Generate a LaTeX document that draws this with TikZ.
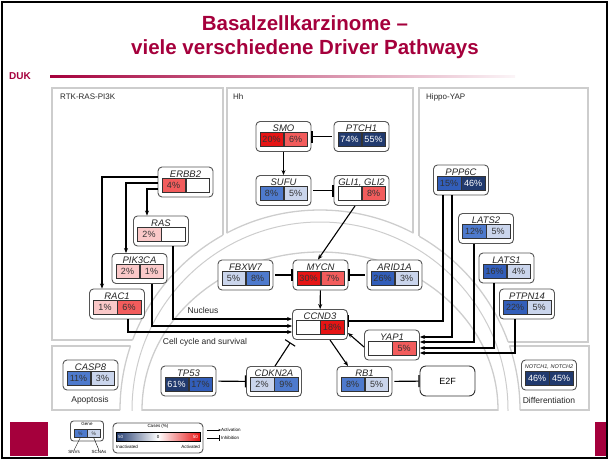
\documentclass[tikz,border=0pt]{standalone}
\usepackage{fontspec}
\setmainfont{Liberation Sans}
\usetikzlibrary{arrows.meta,positioning,calc}
\definecolor{dukred}{RGB}{165,0,60}
\definecolor{panelgray}{RGB}{205,205,205}
\definecolor{boxgray}{RGB}{85,85,85}
\definecolor{redlight}{RGB}{250,200,200}
\definecolor{redmid}{RGB}{242,92,92}
\definecolor{redhigh}{RGB}{230,20,20}
\definecolor{bluelight}{RGB}{202,213,236}
\definecolor{bluemid}{RGB}{78,122,205}
\definecolor{bluehigh}{RGB}{50,94,186}
\definecolor{navyblue}{RGB}{33,58,110}
\tikzset{
 genebox/.style={
 rectangle,
 rounded corners=4pt,
 draw=boxgray,
 fill=white,
 line width=0.9pt,
 minimum width=55pt,
 minimum height=30pt,
 inner sep=0pt
 },
 genename/.style={font=\fontsize{9.5}{10}\selectfont\itshape, text=black!85, inner sep=0pt},
 pct/.style={
 rectangle,
 draw=black!80,
 line width=0.5pt,
 minimum width=23.5pt,
 minimum height=14pt,
 inner sep=0pt,
 font=\fontsize{9}{9}\selectfont,
 text=black!80
 },
 cw/.style={pct, fill=white},
 crl/.style={pct, fill=redlight},
 crm/.style={pct, fill=redmid},
 crh/.style={pct, fill=redhigh},
 cbl/.style={pct, fill=bluelight},
 cbm/.style={pct, fill=bluemid},
 cbh/.style={pct, fill=bluehigh},
 cbn/.style={pct, fill=navyblue, text=white},
 panel/.style={draw=panelgray, line width=1.3pt},
 membrane/.style={draw=panelgray, line width=1pt},
 panellabel/.style={font=\fontsize{8}{8}\selectfont, text=black!85, anchor=west, inner sep=0pt},
 arealabel/.style={font=\fontsize{8.5}{9}\selectfont, text=black!85, inner sep=0pt},
 act/.style={-{Stealth[length=5pt,width=4pt]}, line width=1.1pt},
 inh/.style={-{Bar[width=12pt,line width=1.1pt]}, line width=1.1pt},
 title/.style={font=\fontsize{20.5}{22}\selectfont\bfseries, text=dukred, inner sep=0pt}
}
% gene box: id, position, name, left value, left style, right value, right style
\newcommand{\gene}[7]{%
 \node[genebox] (#1) at (#2) {};
 \node[genename] (#1-n) at ([yshift=-7.5pt]#1.north) {#3};
 \node[#5, anchor=east] (#1-a) at ([yshift=-3pt]#1.center) {#4};
 \node[#7, anchor=west] (#1-b) at ([yshift=-3pt]#1.center) {#6};
}

\begin{document}
\begin{tikzpicture}[x=1pt,y=-1pt]
 \useasboundingbox (0,0) rectangle (610,461);
 \draw[line width=1.5pt] (2,2) rectangle (607,458);

 % title
 \node[title] (t1) at (305,23) {Basalzellkarzinome --};
 \node[title] (t2) at (305,49) {viele verschiedene Driver Pathways};
 \node[font=\fontsize{10}{10}\selectfont\bfseries, text=dukred, anchor=west, inner sep=0pt] (duk) at (9,76) {DUK};
 \shade[left color=dukred, right color=dukred!4] (50,75) rectangle (515,77.5);
 \fill[dukred] (10,422) rectangle (48,456);
 \fill[dukred] (595,422) rectangle (606,456);

 % panels, cut by the arc round the nucleus
 \coordinate (c) at (320,410);
 \begin{scope}[even odd rule]
 \clip (0,0) rectangle (610,461) (c) circle (200);
 \draw[panel] (52,88) rectangle (223,340);
 \draw[panel] (227,88) rectangle (413,320);
 \draw[panel] (419,88) rectangle (588,342);
 \draw[panel] (52,346) rectangle (137,410);
 \draw[panel] (503,346) rectangle (589,410);
 \end{scope}
 \begin{scope}
 \clip (52,88) rectangle (223,340) (227,88) rectangle (413,320) (419,88) rectangle (588,342)
 (52,346) rectangle (137,410) (503,346) rectangle (589,410);
 \draw[panel] (c) circle (200);
 \end{scope}
 \begin{scope}
 \clip (0,0) rectangle (610,410);
 \draw[membrane] (c) circle (188);
 \draw[panel] (c) ellipse [x radius=178, y radius=158];
 \end{scope}
 \draw[panel] (142,410) -- (498,410);

 \node[panellabel] (l-rtk) at (60,97) {RTK-RAS-PI3K};
 \node[panellabel] (l-hh) at (233,97) {Hh};
 \node[panellabel] (l-hip) at (426,97) {Hippo-YAP};
 \node[arealabel] (l-nuc) at (203,310) {Nucleus};
 \node[arealabel] (l-cc) at (205,342) {Cell cycle and survival};
 \node[arealabel] (l-apo) at (90,400) {Apoptosis};
 \node[arealabel] (l-dif) at (549,400) {Differentiation};

 % genes
 \gene{erbb}{185.5,182}{ERBB2}{4\%}{crm}{}{cw}
 \gene{ras}{161,231}{RAS}{2\%}{crl}{}{cw}
 \gene{pik}{139.5,268.5}{PIK3CA}{2\%}{crl}{1\%}{crl}
 \gene{rac}{117,304}{RAC1}{1\%}{crl}{6\%}{crm}
 \gene{smo}{283.5,136.5}{SMO}{20\%}{crh}{6\%}{crm}
 \gene{ptch}{361.5,136.5}{PTCH1}{74\%}{cbn}{55\%}{cbn}
 \gene{sufu}{283.5,190.5}{SUFU}{8\%}{cbm}{5\%}{cbl}
 \gene{gli}{361.5,190.5}{GLI1, GLI2}{}{cw}{8\%}{crm}
 \gene{fbx}{245.5,275}{FBXW7}{5\%}{cbl}{8\%}{cbm}
 \gene{mycn}{320.5,275}{MYCN}{30\%}{crh}{7\%}{crm}
 \gene{arid}{394.5,275}{ARID1A}{26\%}{cbh}{3\%}{cbl}
 \gene{ccnd}{320,324.5}{CCND3}{}{cw}{18\%}{crh}
 \gene{yap}{392,345}{YAP1}{}{cw}{5\%}{crm}
 \gene{tp}{188.5,381}{TP53}{61\%}{cbn}{17\%}{cbh}
 \gene{cdkn}{274,381.5}{CDKN2A}{2\%}{cbl}{9\%}{cbm}
 \gene{rb}{364.5,381.5}{RB1}{8\%}{cbm}{5\%}{cbl}
 \gene{casp}{90.5,375}{CASP8}{11\%}{cbm}{3\%}{cbl}
 \gene{notch}{549,375}{\fontsize{5.5}{6}\selectfont NOTCH1, NOTCH2}{46\%}{cbn}{45\%}{cbn}
 \gene{ppp}{461,180}{PPP6C}{15\%}{cbh}{46\%}{cbn}
 \gene{lats2}{486,228.5}{LATS2}{12\%}{cbm}{5\%}{cbl}
 \gene{lats1}{506.5,268}{LATS1}{16\%}{cbh}{4\%}{cbl}
 \gene{ptpn}{527,304}{PTPN14}{22\%}{cbh}{5\%}{cbl}
 \node[genebox, rounded corners=6pt, draw=black!80, font=\fontsize{9}{9}\selectfont] (e2f) at (447.5,381) {E2F};

 % RTK-RAS-PI3K
 \draw[act] ([yshift=5pt]erbb.west) -| ([xshift=-15pt]rac.north);
 \draw[act] ([yshift=-1pt]erbb.west) -| ([xshift=-13.5pt]pik.north);
 \draw[act] ([yshift=-7pt]erbb.west) -| ([xshift=-14pt]ras.north);
 \draw[act] ([xshift=12pt]ras.south) |- ([yshift=5.5pt]ccnd.west);
 \draw[act] ([xshift=12.5pt]pik.south) |- ([yshift=-1.5pt]ccnd.west);
 \draw[act] ([xshift=11pt]rac.south) |- ([yshift=-7.5pt]ccnd.west);

 % Hh
 \draw[act] (smo) -- (sufu);
 \draw[inh, shorten <=2pt] (ptch) -- (smo);
 \draw[inh, shorten <=2pt] (sufu) -- (gli);
 \draw[act] ([xshift=-6.5pt]gli.south) -- ([xshift=-2.5pt]mycn.north);

 % nucleus
 \draw[inh, shorten <=2pt] (fbx) -- (mycn);
 \draw[inh, shorten <=2pt] (arid) -- (mycn);
 \draw[act] (mycn) -- (ccnd);
 \draw[act] ([yshift=-2pt]yap.west) -- ([yshift=-8.5pt]ccnd.east);
 \draw[act] ([xshift=10pt]ccnd.south) -- ([xshift=-16.5pt]rb.north);
 \draw[inh, shorten >=3pt] ([xshift=1pt]cdkn.north) -- (ccnd.south west);
 \draw[inh, shorten <=2pt] (tp) -- (cdkn);
 \draw[inh, shorten <=2pt] (rb) -- (e2f);

 % Hippo-YAP
 \draw[inh, line width=1.8pt] ([xshift=-18pt]ppp.south) |- ([yshift=3.5pt]ccnd.east);
 \draw[act, line width=1.8pt] ([xshift=-9pt]ppp.south) |- ([yshift=8pt]yap.east);
 \draw[act] ([xshift=-12pt]lats2.south) |- ([yshift=3pt]yap.east);
 \draw[act] ([xshift=-12.5pt]lats1.south) |- ([yshift=-3pt]yap.east);
 \draw[act] ([xshift=-12pt]ptpn.south) |- ([yshift=-8pt]yap.east);

 % legend
 \node[genebox, minimum width=33pt, minimum height=20pt, rounded corners=3pt] (lg-gene) at (87,431) {};
 \node[font=\fontsize{4.5}{5}\selectfont, inner sep=0pt] (lg-gname) at ([yshift=-3.5pt]lg-gene.north) {Gene};
 \node[pct, fill=bluemid, minimum width=13pt, minimum height=8pt, anchor=east, font=\fontsize{5}{5}\selectfont] (lg-a) at ([yshift=-2.5pt]lg-gene.center) {\%};
 \node[pct, fill=bluelight, minimum width=13pt, minimum height=8pt, anchor=west, font=\fontsize{5}{5}\selectfont] (lg-b) at ([yshift=-2.5pt]lg-gene.center) {\%};
 \node[font=\fontsize{4.5}{5}\selectfont, inner sep=0pt] (lg-snv) at (74,452) {SNVs};
 \node[font=\fontsize{4.5}{5}\selectfont, inner sep=0pt] (lg-scna) at (99,452) {SCNAs};
 \draw[line width=0.4pt] (lg-a.south) -- (lg-snv.north);
 \draw[line width=0.4pt] (lg-b.south) -- (lg-scna.north);
 \node[genebox, minimum width=90pt, minimum height=30pt, rounded corners=4pt] (lg-cases) at (158,438) {};
 \node[font=\fontsize{4.5}{5}\selectfont, inner sep=0pt] (lg-ctitle) at ([yshift=-4pt]lg-cases.north) {Cases (\%)};
 \shade[left color=navyblue, right color=redhigh, middle color=white] (116,432) rectangle (200,441);
 \draw[line width=0.4pt] (116,432) rectangle (200,441);
 \node[font=\fontsize{4.5}{5}\selectfont, text=white, anchor=west, inner sep=0pt] (lg-lo) at (118,436.5) {50};
 \node[font=\fontsize{4.5}{5}\selectfont, inner sep=0pt] (lg-mid) at (158,436.5) {0};
 \node[font=\fontsize{4.5}{5}\selectfont, text=white, anchor=east, inner sep=0pt] (lg-hi) at (198,436.5) {50};
 \node[font=\fontsize{4.5}{5}\selectfont, anchor=west, inner sep=0pt] (lg-inact) at (116,447) {Inactivated};
 \node[font=\fontsize{4.5}{5}\selectfont, anchor=east, inner sep=0pt] (lg-act) at (200,447) {Activated};
 \node[font=\fontsize{4.5}{5}\selectfont, anchor=west, inner sep=0pt] (lg-actl) at (221,430) {Activation};
 \node[font=\fontsize{4.5}{5}\selectfont, anchor=west, inner sep=0pt] (lg-inhl) at (221,438) {Inhibition};
 \coordinate (lg-a0) at (207,430);
 \coordinate (lg-i0) at (207,438);
 \draw[-{Stealth[length=2.5pt,width=2pt]}, line width=0.5pt] (lg-a0) -- (lg-actl.west);
 \draw[-{Bar[width=6pt]}, line width=0.5pt] (lg-i0) -- ([xshift=-1.5pt]lg-inhl.west);
\end{tikzpicture}
\end{document}
